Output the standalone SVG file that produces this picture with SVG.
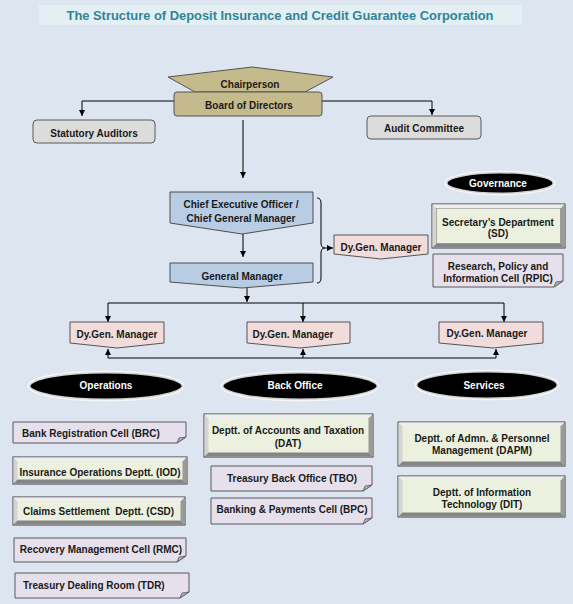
<svg xmlns="http://www.w3.org/2000/svg" width="573" height="604" viewBox="0 0 573 604">
<defs>
<marker id="arr" viewBox="0 0 8 8" refX="8" refY="4" markerWidth="6" markerHeight="6" markerUnits="userSpaceOnUse" orient="auto">
<path d="M0,0 L8,4 L0,8 Z" fill="#000"/>
</marker>
<style>
.t{font-family:"Liberation Sans",Arial,sans-serif;font-weight:bold;font-size:10px;fill:#1a1a1a;text-anchor:middle}
.ts{text-anchor:start}
.tw{fill:#ffffff}
.gray{fill:#dcdcdc;stroke:#5a5a5a;stroke-width:1}
.tan{fill:#c5ba8c;stroke:#555;stroke-width:1}
.blue{fill:#b8cce4;stroke:#4f4f4f;stroke-width:1}
.pink{fill:#f2dcdb;stroke:#555;stroke-width:1}
.note{fill:#e5e0ec;stroke:#5a5a5a;stroke-width:1}
.fold{fill:#b8acc9;stroke:#5a5a5a;stroke-width:0.8}
.face{fill:#ebf1de;stroke:#404040;stroke-width:1}
.bt{fill:#eeeeee}
.bl{fill:#d4d4d4}
.br{fill:#9a9a9a}
.bb{fill:#858585}
.ell{fill:#000;stroke:#f8f8f8;stroke-width:3;stroke-opacity:0.85}
.ln{fill:none;stroke:#000;stroke-width:1}
</style>
</defs>
<rect width="573" height="604" fill="#dde5f0"/>
<g id="title">
<rect x="39" y="5" width="483" height="20" fill="#e2eff3"/>
<text x="280" y="20" font-family="Liberation Sans, Arial, sans-serif" font-weight="bold" font-size="13" fill="#31849b" text-anchor="middle" textLength="427" lengthAdjust="spacingAndGlyphs">The Structure of Deposit Insurance and Credit Guarantee Corporation</text>
</g>

<g id="connectors">
<path class="ln" d="M174,101 H82 V116" marker-end="url(#arr)"/>
<path class="ln" d="M322,101 H432 V115" marker-end="url(#arr)"/>
<path class="ln" d="M243,120 V178" marker-end="url(#arr)"/>
<path class="ln" d="M243,234 V257" marker-end="url(#arr)"/>
<path class="ln" d="M317,198 Q321,198 321,203 V243 Q321,248 325,248 Q321,248 321,253 V278 Q321,283 317,283" stroke="#333"/>
<path class="ln" d="M325,248 H333" marker-end="url(#arr)"/>
<path class="ln" d="M247,288 V302" marker-end="url(#arr)"/>
<path class="ln" d="M108,303 H504"/>
<path class="ln" d="M108,303 V322" marker-end="url(#arr)"/>
<path class="ln" d="M303,303 V322" marker-end="url(#arr)"/>
<path class="ln" d="M504,303 V322" marker-end="url(#arr)"/>
<path class="ln" d="M108,358 H496"/>
<path class="ln" d="M108,358 V349" marker-end="url(#arr)"/>
<path class="ln" d="M303,358 V349" marker-end="url(#arr)"/>
<path class="ln" d="M496,358 V349" marker-end="url(#arr)"/>
</g>

<g id="chairperson">
<polygon class="tan" points="168,77 252,67 333,77 305,92 195,92"/>
<text class="t" x="250" y="87.5">Chairperson</text>
</g>
<g id="board">
<rect class="tan" x="174" y="92" width="148" height="24" rx="3"/>
<text class="t" x="249" y="108.5">Board of Directors</text>
</g>
<g id="statutory-auditors">
<rect class="gray" x="33" y="120" width="122" height="23" rx="4"/>
<text class="t" x="94" y="136.5">Statutory Auditors</text>
</g>
<g id="audit-committee">
<rect class="gray" x="367" y="116" width="114" height="23" rx="4"/>
<text class="t" x="424" y="131.5">Audit Committee</text>
</g>

<g id="ceo">
<path class="blue" d="M170,192 H313 V223 L242,234 L170,223 Z"/>
<text class="t" x="241" y="207.5">Chief Executive Officer /</text>
<text class="t" x="241" y="221.5">Chief General Manager</text>
</g>
<g id="gm">
<path class="blue" d="M170,263 H313 V282 L242,288 L170,282 Z"/>
<text class="t" x="242" y="280">General Manager</text>
</g>

<g id="governance">
<ellipse class="ell" cx="500" cy="183" rx="54" ry="11"/>
<text class="t tw" x="498" y="186.5">Governance</text>
</g>
<g id="dgm-governance">
<path class="pink" d="M334,235 H428 V254 L381,259 L334,254 Z"/>
<text class="t" x="381" y="250.5">Dy.Gen. Manager</text>
</g>
<g id="sd">
<rect class="face" x="432" y="204" width="133" height="44"/>
<polygon class="bt" points="432.5,204.5 564.5,204.5 560.5,208.5 436.5,208.5"/>
<polygon class="bl" points="432.5,204.5 436.5,208.5 436.5,243.5 432.5,247.5"/>
<polygon class="br" points="564.5,204.5 564.5,247.5 560.5,243.5 560.5,208.5"/>
<polygon class="bb" points="432.5,247.5 436.5,243.5 560.5,243.5 564.5,247.5"/>
<rect x="436.5" y="208.5" width="124" height="35" fill="none" stroke="#777" stroke-width="0.5"/>
<text class="t" x="498" y="225.5">Secretary’s Department</text>
<text class="t" x="498" y="237">(SD)</text>
</g>
<g id="rpic">
<path class="note" d="M433,254 H563 V281 L554,287 H433 Z"/>
<path class="fold" d="M563,281 L554,287 L556,282 Z"/>
<text class="t" x="498" y="269.5">Research, Policy and</text>
<text class="t" x="498" y="281.5">Information Cell (RPIC)</text>
</g>

<g id="dgm-operations">
<path class="pink" d="M70,322 H164 V343 L117,348 L70,343 Z"/>
<text class="t" x="117" y="337.5">Dy.Gen. Manager</text>
</g>
<g id="dgm-backoffice">
<path class="pink" d="M247,322 H350 V343 L300,348 L247,343 Z"/>
<text class="t" x="293" y="337.5">Dy.Gen. Manager</text>
</g>
<g id="dgm-services">
<path class="pink" d="M439,322 H543 V343 L493,348 L439,343 Z"/>
<text class="t" x="487" y="337">Dy.Gen. Manager</text>
</g>

<g id="operations">
<ellipse class="ell" cx="106" cy="386" rx="77" ry="14"/>
<text class="t tw" x="106" y="389">Operations</text>
</g>
<g id="back-office">
<ellipse class="ell" cx="300" cy="386" rx="78" ry="14"/>
<text class="t tw" x="295" y="389">Back Office</text>
</g>
<g id="services">
<ellipse class="ell" cx="487" cy="385" rx="71" ry="14"/>
<text class="t tw" x="484" y="388.5">Services</text>
</g>

<g id="brc">
<path class="note" d="M13,422 H186 V437 L177,443 H13 Z"/>
<path class="fold" d="M186,437 L177,443 L179,438 Z"/>
<text class="t ts" x="22" y="436.5">Bank Registration Cell (BRC)</text>
</g>
<g id="iod">
<rect class="face" x="13" y="457" width="174" height="27"/>
<polygon class="bt" points="13.5,457.5 186.5,457.5 182.5,461.5 17.5,461.5"/>
<polygon class="bl" points="13.5,457.5 17.5,461.5 17.5,479.5 13.5,483.5"/>
<polygon class="br" points="186.5,457.5 186.5,483.5 182.5,479.5 182.5,461.5"/>
<polygon class="bb" points="13.5,483.5 17.5,479.5 182.5,479.5 186.5,483.5"/>
<text class="t" x="100" y="475.5">Insurance Operations Deptt. (IOD)</text>
</g>
<g id="csd">
<rect class="face" x="13" y="497" width="172" height="28"/>
<polygon class="bt" points="13.5,497.5 184.5,497.5 180.5,501.5 17.5,501.5"/>
<polygon class="bl" points="13.5,497.5 17.5,501.5 17.5,520.5 13.5,524.5"/>
<polygon class="br" points="184.5,497.5 184.5,524.5 180.5,520.5 180.5,501.5"/>
<polygon class="bb" points="13.5,524.5 17.5,520.5 180.5,520.5 184.5,524.5"/>
<text class="t ts" x="23" y="514.5" xml:space="preserve">Claims Settlement  Deptt. (CSD)</text>
</g>
<g id="rmc">
<path class="note" d="M14,538 H186 V556 L177,562 H14 Z"/>
<path class="fold" d="M186,556 L177,562 L179,557 Z"/>
<text class="t" x="101" y="552.5">Recovery Management Cell (RMC)</text>
</g>
<g id="tdr">
<path class="note" d="M15,573 H189 V592 L180,598 H15 Z"/>
<path class="fold" d="M189,592 L180,598 L182,593 Z"/>
<text class="t ts" x="23" y="588.5">Treasury Dealing Room (TDR)</text>
</g>

<g id="dat">
<rect class="face" x="204" y="414" width="169" height="43"/>
<polygon class="bt" points="204.5,414.5 372.5,414.5 368.5,418.5 208.5,418.5"/>
<polygon class="bl" points="204.5,414.5 208.5,418.5 208.5,452.5 204.5,456.5"/>
<polygon class="br" points="372.5,414.5 372.5,456.5 368.5,452.5 368.5,418.5"/>
<polygon class="bb" points="204.5,456.5 208.5,452.5 368.5,452.5 372.5,456.5"/>
<text class="t" x="288" y="433.5">Deptt. of Accounts and Taxation</text>
<text class="t" x="288" y="446.5">(DAT)</text>
</g>
<g id="tbo">
<path class="note" d="M211,466 H372 V485 L363,491 H211 Z"/>
<path class="fold" d="M372,485 L363,491 L365,486 Z"/>
<text class="t" x="292" y="481.5">Treasury Back Office (TBO)</text>
</g>
<g id="bpc">
<path class="note" d="M211,498 H372 V518 L363,524 H211 Z"/>
<path class="fold" d="M372,518 L363,524 L365,519 Z"/>
<text class="t" x="292" y="512.5">Banking &amp; Payments Cell (BPC)</text>
</g>

<g id="dapm">
<rect class="face" x="398" y="422" width="167" height="44"/>
<polygon class="bt" points="398.5,422.5 564.5,422.5 560.5,426.5 402.5,426.5"/>
<polygon class="bl" points="398.5,422.5 402.5,426.5 402.5,461.5 398.5,465.5"/>
<polygon class="br" points="564.5,422.5 564.5,465.5 560.5,461.5 560.5,426.5"/>
<polygon class="bb" points="398.5,465.5 402.5,461.5 560.5,461.5 564.5,465.5"/>
<text class="t" x="482" y="441.5">Deptt. of Admn. &amp; Personnel</text>
<text class="t" x="482" y="453.5">Management (DAPM)</text>
</g>
<g id="dit">
<rect class="face" x="398" y="476" width="167" height="41"/>
<polygon class="bt" points="398.5,476.5 564.5,476.5 560.5,480.5 402.5,480.5"/>
<polygon class="bl" points="398.5,476.5 402.5,480.5 402.5,512.5 398.5,516.5"/>
<polygon class="br" points="564.5,476.5 564.5,516.5 560.5,512.5 560.5,480.5"/>
<polygon class="bb" points="398.5,516.5 402.5,512.5 560.5,512.5 564.5,516.5"/>
<text class="t" x="482" y="495.5">Deptt. of Information</text>
<text class="t" x="482" y="507.5">Technology (DIT)</text>
</g>
</svg>
